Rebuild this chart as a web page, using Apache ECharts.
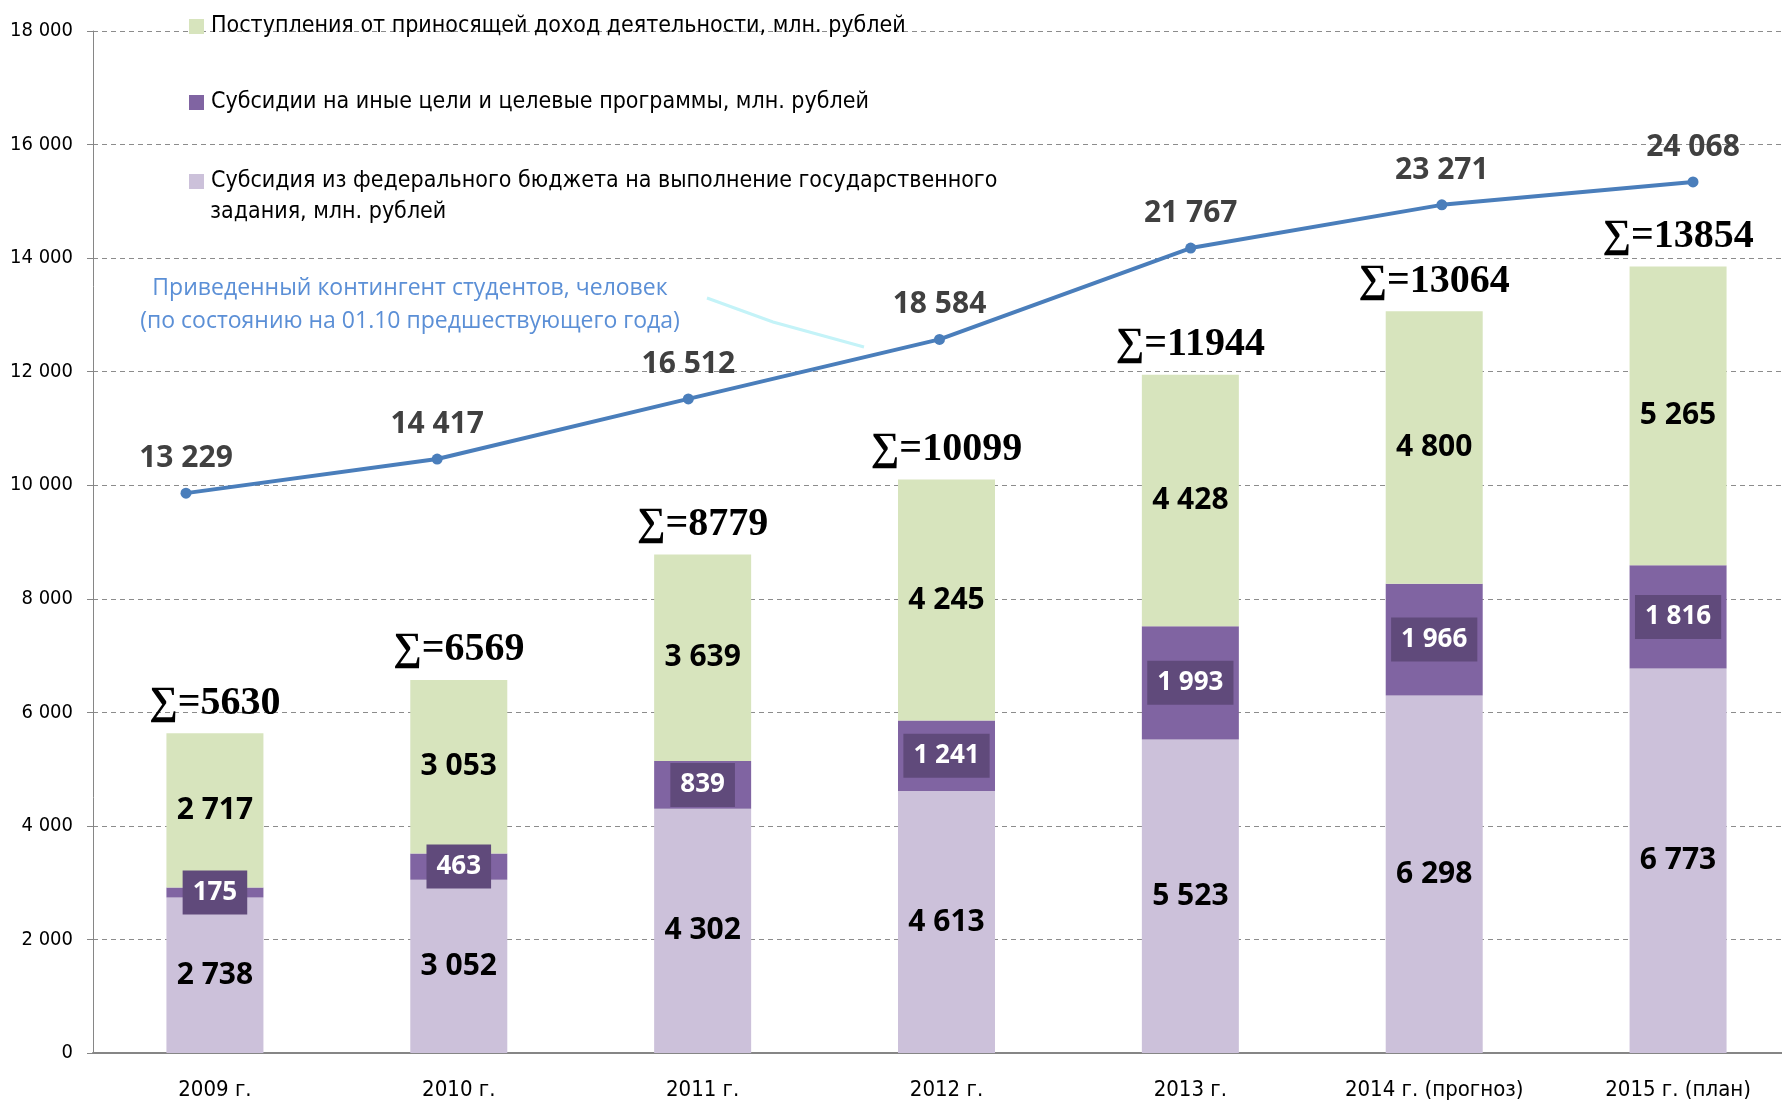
<!DOCTYPE html>
<html>
<head>
<meta charset="utf-8">
<script src="https://cdn.jsdelivr.net/npm/echarts@6/dist/echarts.min.js"></script>
<style>
  html, body { margin: 0; padding: 0; background: #fff; overflow: hidden; }
  #chart { width: 1812px; height: 1102px; }
</style>
</head>
<body>
<div id="chart"></div>
<script>
const categories = ['2009 г.', '2010 г.', '2011 г.', '2012 г.', '2013 г.', '2014 г. (прогноз)', '2015 г. (план)'];
const stateTask = [2738, 3052, 4302, 4613, 5523, 6298, 6773];
const otherSubsidies = [175, 463, 839, 1241, 1993, 1966, 1816];
const incomeActivity = [2717, 3053, 3639, 4245, 4428, 4800, 5265];
const totals = [5630, 6569, 8779, 10099, 11944, 13064, 13854];
const students = [13229, 14417, 16512, 18584, 21767, 23271, 24068];

const names = [
  'Субсидия из федерального бюджета на выполнение государственного',
  'Субсидии на иные цели и целевые программы, млн. рублей',
  'Поступления от приносящей доход деятельности, млн. рублей'
];
const colors = ['#ccc1da', '#8064a2', '#d7e4bd'];

const fmt = v => String(v).replace(/\B(?=(\d{3})+(?!\d))/g, ' ');
const narrow = '"Liberation Sans Narrow", "DejaVu Sans Condensed", sans-serif';
const sans = '"Open Sans", "Liberation Sans", sans-serif';

const chart = echarts.init(document.getElementById('chart'));

const segLabel = {
  show: true,
  position: 'inside',
  color: '#000',
  fontFamily: sans,
  fontWeight: 'bold',
  fontSize: 30,
  formatter: p => fmt(p.value)
};

const legendBase = {
  orient: 'vertical',
  left: 184,
  icon: 'rect',
  itemWidth: 15,
  itemHeight: 15,
  selectedMode: false,
  textStyle: { fontFamily: narrow, fontSize: 23, color: '#000', padding: [0, 0, 0, 2] }
};

chart.setOption({
  animation: false,
  color: colors,
  grid: [
    { left: 93, top: 31, width: 1707, height: 1022 },
    { left: 186, top: 31, width: 1507, height: 1022 }
  ],
  legend: [
    Object.assign({}, legendBase, { top: 10, data: [names[2]] }),
    Object.assign({}, legendBase, { top: 86, data: [names[1]] }),
    Object.assign({}, legendBase, { top: 165, data: [names[0]] })
  ],
  xAxis: [
    {
      type: 'category',
      gridIndex: 0,
      data: categories,
      axisLine: { lineStyle: { color: '#868686', width: 2 } },
      axisTick: { length: 9, lineStyle: { color: '#868686' } },
      axisLabel: { interval: 0, fontFamily: narrow, fontSize: 22, color: '#000', margin: 26 }
    },
    {
      type: 'category',
      gridIndex: 1,
      data: categories,
      boundaryGap: false,
      show: false
    }
  ],
  yAxis: [
    {
      type: 'value',
      gridIndex: 0,
      min: 0,
      max: 18000,
      interval: 2000,
      axisLine: { show: true, lineStyle: { color: '#868686' } },
      axisTick: { show: true, length: 6, lineStyle: { color: '#868686' } },
      axisLabel: { fontFamily: narrow, fontSize: 20, color: '#000', margin: 20, formatter: v => fmt(v) },
      splitLine: { lineStyle: { color: '#8c8c8c', type: [5, 4], width: 1 } }
    },
    {
      type: 'value',
      gridIndex: 1,
      min: -6273,
      max: 29327,
      show: false,
      splitLine: { show: false }
    }
  ],
  series: [
    {
      name: names[0],
      type: 'bar',
      stack: 'budget',
      barWidth: 97,
      data: stateTask,
      itemStyle: { color: colors[0] },
      label: segLabel
    },
    {
      name: names[1],
      type: 'bar',
      stack: 'budget',
      data: otherSubsidies,
      itemStyle: { color: colors[1] },
      label: Object.assign({}, segLabel, {
        color: '#fff',
        fontSize: 26,
        backgroundColor: '#604a7b',
        padding: [10, 10, 8, 10]
      })
    },
    {
      name: names[2],
      type: 'bar',
      stack: 'budget',
      data: incomeActivity,
      itemStyle: { color: colors[2] },
      label: segLabel
    },
    {
      name: 'total',
      type: 'bar',
      stack: 'budget',
      data: totals.map(() => 0),
      itemStyle: { color: 'transparent' },
      label: {
        show: true,
        position: 'top',
        distance: 10,
        color: '#000',
        fontFamily: '"Liberation Serif", "DejaVu Serif", serif',
        fontWeight: 'bold',
        fontSize: 40,
        formatter: p => '∑=' + totals[p.dataIndex]
      }
    },
    {
      name: 'students',
      type: 'line',
      xAxisIndex: 1,
      yAxisIndex: 1,
      data: students,
      symbol: 'circle',
      symbolSize: 11,
      lineStyle: { color: '#4a7ebb', width: 4 },
      itemStyle: { color: '#4a7ebb' },
      label: {
        show: true,
        position: 'top',
        distance: 14,
        color: '#404040',
        fontFamily: sans,
        fontWeight: 'bold',
        fontSize: 30,
        formatter: p => fmt(p.value)
      }
    }
  ],
  graphic: [
    {
      type: 'text',
      left: 210,
      top: 201,
      style: { text: 'задания, млн. рублей', fontFamily: narrow, fontSize: 23, fill: '#000' }
    },
    {
      type: 'text',
      x: 410,
      y: 305,
      style: {
        text: 'Приведенный контингент студентов, человек\n(по состоянию на 01.10 предшествующего года)',
        fontFamily: sans,
        fontSize: 23,
        lineHeight: 33,
        fill: '#5b8fd6',
        align: 'center',
        verticalAlign: 'middle'
      }
    },
    {
      type: 'polyline',
      shape: { points: [[707, 298], [773, 322], [864, 347]] },
      style: { stroke: '#c4f3f8', lineWidth: 3, fill: null }
    }
  ]
});
</script>
</body>
</html>
